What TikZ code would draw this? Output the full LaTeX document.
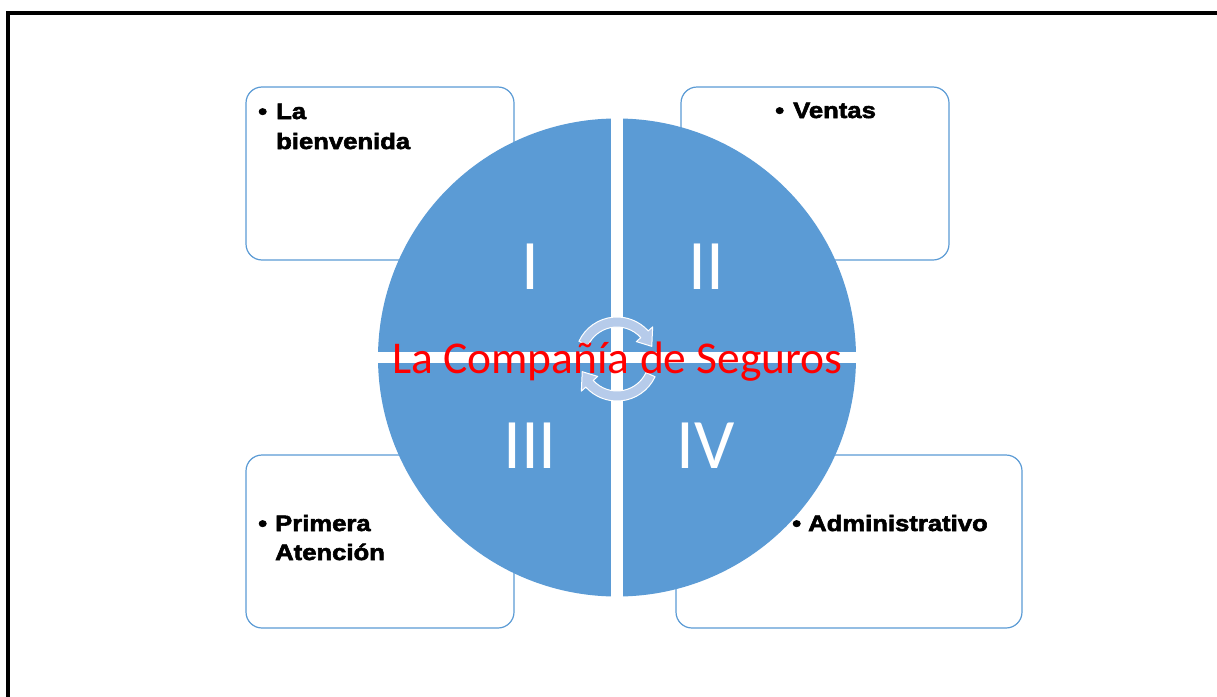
\documentclass[tikz,border=0pt]{standalone}
\usepackage{fontspec}
\setmainfont{Carlito}
\newfontfamily\boxfont[FakeStretch=1.15,BoldFeatures={FakeBold=2.6}]{Liberation Sans}
\usetikzlibrary{calc}
\definecolor{pieblue}{RGB}{91,155,213}
\definecolor{arrowfill}{RGB}{182,203,234}
\begin{document}
\begin{tikzpicture}[x=1pt,y=1pt,
  box/.style={draw=pieblue, line width=1.2pt, rounded corners=16pt, fill=white, inner sep=0pt},
  boxtext/.style={anchor=base west, inner sep=0pt, text=black, font={\boxfont\bfseries\fontsize{22.3}{30}\selectfont}},
  numeral/.style={anchor=base, inner sep=0pt, text=white, font={\fontsize{71}{80}\selectfont}},
  titletext/.style={anchor=base, inner sep=0pt, text=red, font={\fontsize{45.5}{50}\selectfont}},
  cyc/.style={fill=arrowfill, draw=white, line width=1pt, line join=round}
]
\useasboundingbox (0,0) rectangle (1217,-696);
\clip (0,0) rectangle (1217,-696);
\draw[line width=4pt] (8,-700) -- (8,-13) -- (1222,-13);

% boxes
\node[box, minimum width=268pt, minimum height=173pt] (b1) at (380,-173.5) {};
\node[box, minimum width=268pt, minimum height=173pt] (b2) at (815,-173.5) {};
\node[box, minimum width=268pt, minimum height=173pt] (b3) at (380,-541.5) {};
\node[box, minimum width=346pt, minimum height=173pt] (b4) at (849,-541.5) {};

% pie
\node[circle, fill=pieblue, minimum size=478pt, inner sep=0pt] (pie) at (617,-357.5) {};
\fill[white] (611,-110) rectangle (623,-605);
\fill[white] (370,-352) rectangle (865,-363);

% numerals
\node[numeral] (n1) at (530,-289) {I};
\node[numeral] (n2) at (706,-289) {II};
\node[numeral] (n3) at (530,-468) {III};
\node[numeral] (n4) at (706,-468) {IV};

% cycle arrows
\coordinate (C) at (617,-359);
\filldraw[cyc] ($(C)+(155:42)$) arc[start angle=155, end angle=42, radius=42]
  -- ($(C)+(42:48)$) -- ($(C)+(20:37)$) -- ($(C)+(42:26)$) -- ($(C)+(42:32)$)
  arc[start angle=42, end angle=155, radius=32] -- cycle;
\filldraw[cyc] ($(C)+(-25:42)$) arc[start angle=-25, end angle=-138, radius=42]
  -- ($(C)+(-138:48)$) -- ($(C)+(-160:37)$) -- ($(C)+(-138:26)$) -- ($(C)+(-138:32)$)
  arc[start angle=-138, end angle=-25, radius=32] -- cycle;

% title
\node[titletext] (title) at (617.5,-373) {La Compañía de Seguros};

% box texts
\node[boxtext] (t1a) at (258,-119) {\makebox[18pt][l]{•}La};
\node[boxtext] (t1b) at (276,-149) {bienvenida};
\node[boxtext] (t2a) at (775,-118) {\makebox[18pt][l]{•}Ventas};
\node[boxtext] (t3a) at (258,-531) {\makebox[17pt][l]{•}Primera};
\node[boxtext] (t3b) at (275,-560) {Atención};
\node[boxtext] (t4a) at (792,-531) {\makebox[16pt][l]{•}Administrativo};
\end{tikzpicture}
\end{document}
